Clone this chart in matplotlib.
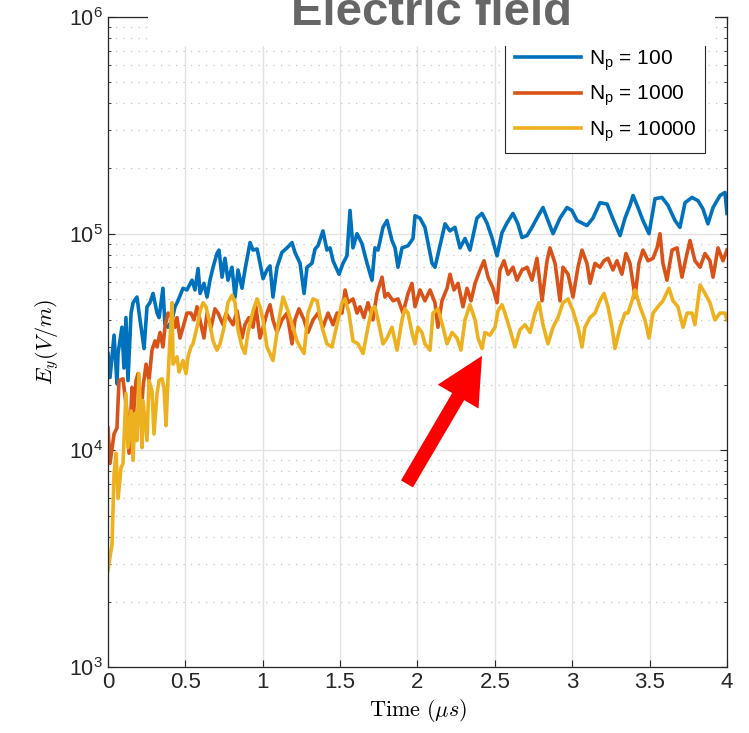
import numpy as np
import matplotlib.pyplot as plt
from matplotlib.patches import Rectangle

plt.rcParams['font.family'] = ['Liberation Sans', 'DejaVu Sans']

# time in microseconds, field in kV/m
t_100 = [0.0, 0.013, 0.039, 0.058, 0.065, 0.090, 0.103, 0.116, 0.129, 0.149, 0.162, 0.187,
         0.207, 0.233, 0.252, 0.271, 0.291, 0.317, 0.330, 0.355, 0.368, 0.388, 0.414, 0.433,
         0.452, 0.485, 0.510, 0.543, 0.562, 0.582, 0.595, 0.620, 0.640, 0.659, 0.679, 0.704,
         0.717, 0.737, 0.756, 0.775, 0.801, 0.821, 0.840, 0.866, 0.885, 0.918, 0.937, 0.963,
         0.976, 1.002, 1.027, 1.047, 1.066, 1.092, 1.124, 1.157, 1.189, 1.208, 1.241, 1.267,
         1.286, 1.318, 1.338, 1.357, 1.389, 1.415, 1.435, 1.454, 1.493, 1.519, 1.544, 1.564,
         1.583, 1.609, 1.641, 1.674, 1.706, 1.725, 1.745, 1.777, 1.803, 1.835, 1.855, 1.874,
         1.900, 1.939, 1.971, 1.984, 2.016, 2.048, 2.094, 2.113, 2.145, 2.178, 2.210, 2.242,
         2.275, 2.307, 2.339, 2.384, 2.417, 2.449, 2.481, 2.514, 2.546, 2.578, 2.617, 2.649,
         2.675, 2.708, 2.740, 2.772, 2.811, 2.843, 2.876, 2.921, 2.966, 2.998, 3.031, 3.063,
         3.095, 3.134, 3.179, 3.225, 3.263, 3.309, 3.341, 3.373, 3.393, 3.425, 3.457, 3.496,
         3.535, 3.580, 3.619, 3.664, 3.696, 3.729, 3.774, 3.813, 3.845, 3.877, 3.910, 3.955,
         3.987, 4.0]
e_100 = [28, 21.7, 34, 20.3, 28, 37, 24, 41, 21, 43, 48, 51,
         40, 29.5, 46, 48, 53, 43, 41, 56, 38, 37, 40, 46,
         49, 56, 55, 61, 55, 69, 53, 59, 51, 61, 70, 81,
         84, 63, 77, 61, 70, 51, 68, 56, 68, 91, 84, 85,
         77, 62, 68, 71, 51, 70, 82, 86, 91, 82, 73, 53,
         70, 73, 85, 88, 103, 84, 86, 75, 65, 73, 79, 128,
         86, 100, 90, 73, 61, 86, 84, 107, 115, 93, 86, 70,
         86, 88, 95, 121, 118, 107, 73, 70, 88, 111, 103, 107,
         86, 95, 84, 118, 124, 112, 96, 79, 101, 112, 124, 111,
         96, 98, 107, 118, 132, 115, 100, 118, 132, 128, 115, 112,
         109, 118, 139, 137, 117, 98, 118, 135, 150, 132, 115, 100,
         145, 147, 135, 115, 107, 139, 147, 142, 130, 111, 132, 150,
         155, 124]

t_1000 = [0.0, 0.013, 0.039, 0.058, 0.071, 0.097, 0.123, 0.136, 0.155, 0.162, 0.181, 0.194,
          0.213, 0.226, 0.246, 0.265, 0.284, 0.304, 0.317, 0.336, 0.355, 0.368, 0.388, 0.414,
          0.433, 0.446, 0.465, 0.485, 0.510, 0.536, 0.556, 0.575, 0.601, 0.620, 0.640, 0.666,
          0.691, 0.711, 0.743, 0.763, 0.788, 0.808, 0.834, 0.866, 0.885, 0.911, 0.937, 0.956,
          0.982, 1.002, 1.027, 1.047, 1.066, 1.092, 1.124, 1.157, 1.189, 1.208, 1.234, 1.267,
          1.292, 1.325, 1.357, 1.389, 1.422, 1.454, 1.480, 1.512, 1.532, 1.551, 1.583, 1.609,
          1.628, 1.654, 1.680, 1.712, 1.738, 1.771, 1.790, 1.809, 1.842, 1.874, 1.906, 1.939,
          1.964, 1.984, 2.016, 2.048, 2.081, 2.113, 2.132, 2.158, 2.191, 2.210, 2.236, 2.262,
          2.294, 2.320, 2.346, 2.372, 2.404, 2.430, 2.456, 2.488, 2.514, 2.533, 2.559, 2.585,
          2.617, 2.643, 2.675, 2.708, 2.740, 2.772, 2.805, 2.837, 2.856, 2.889, 2.921, 2.940,
          2.973, 3.005, 3.037, 3.063, 3.095, 3.115, 3.147, 3.179, 3.205, 3.231, 3.263, 3.289,
          3.321, 3.347, 3.373, 3.406, 3.431, 3.457, 3.490, 3.522, 3.548, 3.567, 3.586, 3.612,
          3.645, 3.677, 3.709, 3.735, 3.761, 3.793, 3.826, 3.858, 3.890, 3.910, 3.942, 3.974,
          4.0]
e_1000 = [12.7, 8.7, 11.9, 12.7, 21, 21.4, 14.8, 9.7, 19.5, 13.7, 21, 22.6,
          13.7, 19.5, 25, 21, 29, 32, 30, 35, 30, 37, 43, 41,
          37, 41, 33, 37, 43, 43, 40, 46, 38, 33, 43, 37,
          45, 43, 38, 43, 40, 38, 44, 33, 38, 41, 37, 46,
          33, 37, 43, 47, 40, 35, 40, 43, 31, 40, 45, 40,
          35, 40, 43, 37, 43, 38, 43, 43, 55, 48, 50, 43,
          46, 41, 48, 40, 53, 63, 51, 53, 49, 50, 43, 53,
          59, 46, 55, 49, 55, 48, 37, 49, 56, 65, 55, 59,
          46, 56, 49, 59, 68, 75, 63, 56, 48, 68, 75, 65,
          70, 61, 68, 70, 61, 77, 49, 75, 86, 73, 49, 70,
          65, 51, 70, 84, 73, 59, 73, 70, 75, 77, 68, 75,
          65, 81, 73, 51, 73, 84, 75, 77, 86, 100, 73, 61,
          84, 86, 63, 77, 93, 75, 70, 81, 75, 63, 86, 75,
          84]

t_10000 = [0.0, 0.026, 0.039, 0.052, 0.065, 0.084, 0.097, 0.116, 0.129, 0.149, 0.162, 0.174,
           0.187, 0.200, 0.220, 0.226, 0.252, 0.265, 0.284, 0.297, 0.317, 0.330, 0.349, 0.362,
           0.375, 0.388, 0.401, 0.414, 0.420, 0.446, 0.459, 0.485, 0.504, 0.517, 0.536, 0.549,
           0.575, 0.595, 0.614, 0.633, 0.653, 0.679, 0.704, 0.724, 0.750, 0.775, 0.801, 0.821,
           0.840, 0.866, 0.885, 0.905, 0.937, 0.963, 0.982, 1.002, 1.027, 1.066, 1.099, 1.131,
           1.163, 1.195, 1.221, 1.241, 1.267, 1.292, 1.325, 1.351, 1.383, 1.415, 1.447, 1.480,
           1.512, 1.532, 1.557, 1.583, 1.616, 1.648, 1.680, 1.706, 1.725, 1.745, 1.777, 1.803,
           1.835, 1.868, 1.900, 1.919, 1.939, 1.964, 1.984, 2.003, 2.029, 2.048, 2.081, 2.100,
           2.132, 2.165, 2.191, 2.223, 2.255, 2.281, 2.307, 2.339, 2.372, 2.391, 2.417, 2.436,
           2.468, 2.501, 2.520, 2.546, 2.565, 2.598, 2.630, 2.662, 2.695, 2.727, 2.759, 2.785,
           2.811, 2.843, 2.876, 2.908, 2.940, 2.973, 3.005, 3.037, 3.063, 3.082, 3.115, 3.147,
           3.179, 3.205, 3.231, 3.257, 3.276, 3.309, 3.341, 3.360, 3.386, 3.406, 3.438, 3.470,
           3.496, 3.522, 3.554, 3.586, 3.625, 3.651, 3.683, 3.716, 3.742, 3.774, 3.793, 3.826,
           3.858, 3.890, 3.922, 3.955, 3.987, 4.0]
e_10000 = [2.8, 3.7, 7.8, 9.7, 6.0, 8.3, 8.7, 18.3, 10.3, 15.2, 9.0, 14.8,
           11.1, 22.6, 10.3, 17, 11.1, 21, 18.9, 11.9, 18.3, 21, 21.4, 19.5,
           13, 21.7, 33, 48, 25, 27, 23, 26, 22.6, 27, 30, 31,
           37, 44, 48, 46, 40, 32, 29, 31, 37, 48, 52, 48,
           36, 30, 28, 35, 44, 50, 46, 40, 30, 26, 38, 51,
           44, 37, 32, 30, 28, 43, 50, 49, 37, 31, 30, 38,
           48, 50, 43, 32, 31, 28, 37, 45, 46, 40, 31, 33,
           37, 29, 40, 45, 43, 35, 31, 37, 35, 31, 29, 43,
           45, 37, 31, 35, 33, 29, 40, 47, 40, 33, 29.5, 35,
           34, 37, 44, 47, 43, 36, 30, 36, 38, 35, 43, 48,
           38, 31, 37, 41, 48, 50, 44, 37, 30, 37, 41, 43,
           49, 53, 46, 37, 29.5, 37, 43, 43, 49, 55, 46, 40,
           33, 43, 46, 49, 56, 49, 46, 37, 43, 43, 38, 58,
           53, 48, 40, 43, 43, 40]

labels = ['N$_\\mathregular{p}$ = 100', 'N$_\\mathregular{p}$ = 1000', 'N$_\\mathregular{p}$ = 10000']
colors = ['#0072BD', '#D95319', '#EDB120']
xticks = [0, 0.5, 1, 1.5, 2, 2.5, 3, 3.5, 4]
xticklabels = ['0', '0.5', '1', '1.5', '2', '2.5', '3', '3.5', '4']

# arrow annotation (tail -> tip), data coordinates
arrow_tail = (1.932, 7.0e3)
arrow_tip = (2.417, 27.3e3)

fig = plt.figure(figsize=(7.49, 7.33), dpi=100)
ax = fig.add_axes([0.1442, 0.0900, 0.8264, 0.8868])

series = [(t_100, e_100), (t_1000, e_1000), (t_10000, e_10000)]
for (t, e), c, lab in zip(series, colors, labels):
    ax.plot(t, np.array(e) * 1e3, color=c, lw=2.6, label=lab)

ax.set_yscale('log')
ax.set_xlim(0, 4)
ax.set_ylim(1e3, 1e6)
ax.set_xticks(xticks)
ax.set_xticklabels(xticklabels)
ax.yaxis.set_minor_formatter(plt.NullFormatter())

ax.set_axisbelow(True)
ax.grid(True, which='major', color='#e2e2e2', lw=1.0, ls='-')
ax.grid(True, which='minor', axis='y', color='#c4c4c4', lw=0.9, ls=(0, (1, 5)))
ax.tick_params(which='both', direction='in', top=True, right=True, colors='#262626')
ax.tick_params(axis='x', labelsize=16)
ax.tick_params(axis='y', labelsize=15.5)
ax.tick_params(which='major', length=5, width=0.8)
ax.tick_params(which='minor', length=2.5, width=0.6)
for s in ax.spines.values():
    s.set_color('#262626')
    s.set_linewidth(0.9)

ax.set_xlabel(r'$\mathrm{Time}\ (\mu s)$', fontsize=16, math_fontfamily='cm', labelpad=3)
ax.set_ylabel(r'$E_y(V/m)$', fontsize=16, math_fontfamily='cm', labelpad=6)

ax.annotate('', xy=arrow_tip, xytext=arrow_tail,
            arrowprops=dict(arrowstyle='simple,head_length=3.4,head_width=3.4,tail_width=1.0',
                            mutation_scale=10, color='#ff0000', lw=0,
                            shrinkA=0, shrinkB=0))

leg = ax.legend(loc='lower right', bbox_to_anchor=(0.9645, 0.7908), fontsize=15,
                handlelength=3.2, handletextpad=0.35, labelspacing=0.5, borderpad=0.45,
                borderaxespad=0, fancybox=False, framealpha=1, edgecolor='#262626')
leg.get_frame().set_linewidth(0.8)

# white band behind the title (covers top of axes and legend)
fig.add_artist(Rectangle((148 / 749, 1 - 46 / 733), (715 - 148) / 749, 46 / 733 + 0.01,
                         transform=fig.transFigure, facecolor='white', edgecolor='none',
                         zorder=5))
fig.text(431.7 / 749, 1 - 25 / 733, 'Electric field', ha='center', va='baseline',
         fontsize=34, fontweight='bold', color='#666666', zorder=6)

fig.savefig('out.png', dpi=100)
